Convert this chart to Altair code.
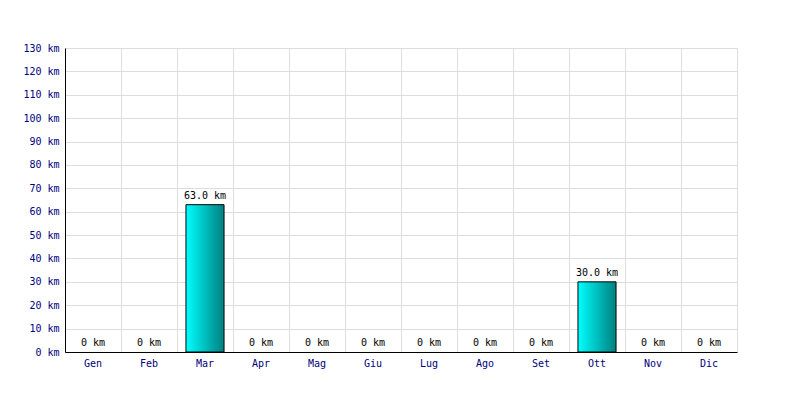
import altair as alt
import pandas as pd

months = ["Gen", "Feb", "Mar", "Apr", "Mag", "Giu", "Lug", "Ago", "Set", "Ott", "Nov", "Dic"]
km = [0, 0, 63.0, 0, 0, 0, 0, 0, 0, 30.0, 0, 0]
yticks = [0, 10, 20, 30, 40, 50, 60, 70, 80, 90, 100, 110, 120, 130]

labels = [("%.1f km" % v) if v > 0 else "0 km" for v in km]
df = pd.DataFrame({"month": months, "km": km, "label": labels})

FONT = "DejaVu Sans Mono"

x = alt.X("month:N", sort=months, title=None,
          scale=alt.Scale(paddingInner=0, paddingOuter=0),
          axis=alt.Axis(labelAngle=0, ticks=False, domain=True, domainColor="black",
                        labelColor="#000080", labelFont=FONT, labelFontSize=10,
                        labelPadding=6, grid=True, gridColor="#dddddd",
                        bandPosition=0))
y = alt.Y("km:Q", title=None,
          scale=alt.Scale(domain=[0, 130], nice=False),
          axis=alt.Axis(values=yticks, labelExpr="datum.value + ' km'",
                        ticks=False, domainColor="black", labelColor="#000080",
                        labelFont=FONT, labelFontSize=10, labelPadding=6,
                        labelOverlap=False, gridColor="#dddddd"))

grad = alt.Gradient(gradient="linear",
                    stops=[alt.GradientStop(color="#00ffff", offset=0),
                           alt.GradientStop(color="#008080", offset=1)],
                    x1=0, x2=1, y1=0, y2=0)

bars = alt.Chart(df).mark_bar(color=grad, stroke="black", strokeWidth=1,
                              width=alt.RelativeBandSize(band=0.68)).encode(
    x=x, y=y).transform_filter("datum.km > 0")

text = alt.Chart(df).mark_text(baseline="bottom", dy=-4, font=FONT, fontSize=10,
                               color="black").encode(
    x=x, y=y, text="label:N")

chart = alt.layer(bars, text).properties(
    width=672, height=304,
    autosize=alt.AutoSizeParams(type="none"),
    padding={"left": 57, "top": 40, "right": 55, "bottom": 40},
).configure_view(stroke="#dddddd").configure(background="white")

chart.save("out.html", embed_options={"renderer": "svg", "actions": False})
